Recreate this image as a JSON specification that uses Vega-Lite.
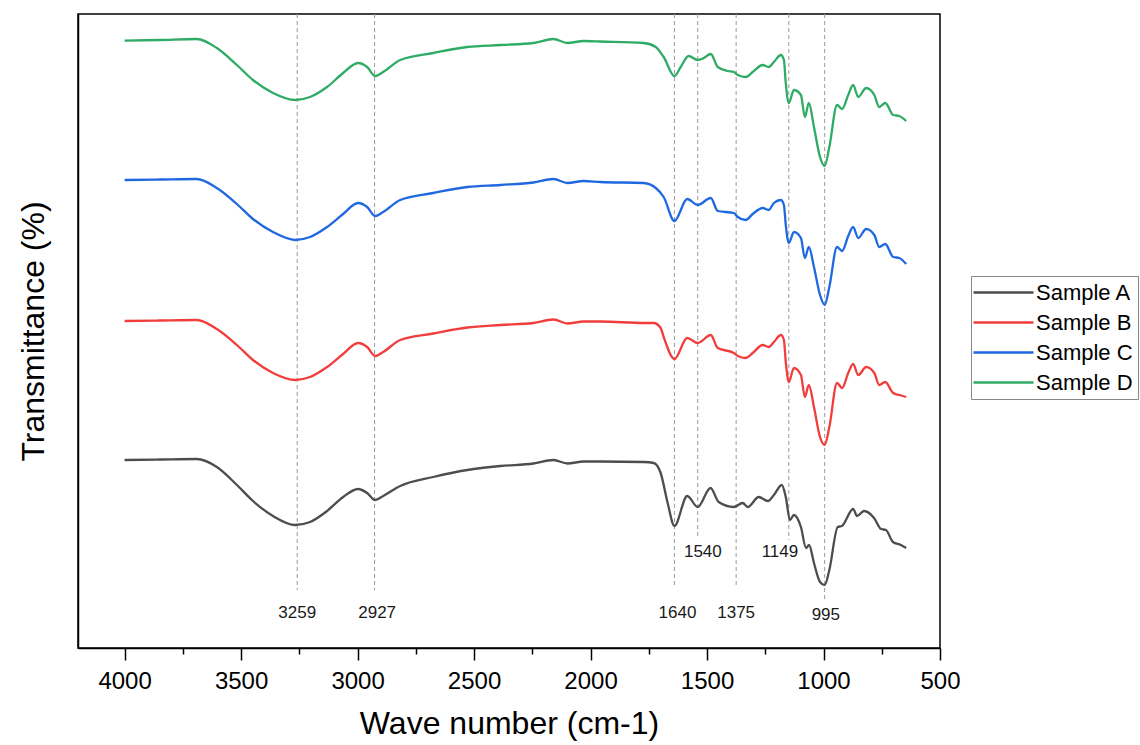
{
  "$schema": "https://vega.github.io/schema/vega-lite/v6.json",
  "width": 862,
  "height": 634,
  "autosize": {"type": "none"},
  "padding": {"left": 78, "top": 14, "right": 200, "bottom": 97},
  "background": "white",
  "config": {
    "font": "Liberation Sans",
    "view": {"stroke": "#000", "strokeWidth": 1.5},
    "axis": {"grid": false, "domainColor": "#000", "domainWidth": 1.5, "tickColor": "#000", "tickWidth": 1.5, "labelColor": "#000", "titleColor": "#000", "titleFontWeight": "normal", "labelFont": "Liberation Sans", "titleFont": "Liberation Sans"},
    "legend": {"symbolType": "M-3,0H3", "symbolSize": 400, "symbolStrokeWidth": 2.5, "symbolOffset": 16, "padding": 5, "labelOffset": 21, "rowPadding": 7, "strokeColor": "#888", "labelFontSize": 22, "labelFont": "Liberation Sans", "labelColor": "#000"}
  },
  "datasets": {
    "peaks": [
      {"wn": 3259, "yTop": 634, "yEnd": 58, "label": "3259", "lx": 3259, "ly": 35},
      {"wn": 2927, "yTop": 634, "yEnd": 58, "label": "2927", "lx": 2916, "ly": 35},
      {"wn": 1640, "yTop": 634, "yEnd": 60, "label": "1640", "lx": 1627, "ly": 35},
      {"wn": 1540, "yTop": 634, "yEnd": 111, "label": "1540", "lx": 1518, "ly": 96},
      {"wn": 1375, "yTop": 634, "yEnd": 60, "label": "1375", "lx": 1375, "ly": 35},
      {"wn": 1149, "yTop": 634, "yEnd": 108, "label": "1149", "lx": 1187, "ly": 96},
      {"wn": 995, "yTop": 634, "yEnd": 48, "label": "995", "lx": 990, "ly": 33}
    ],
    "spectra": [
      {"sample": "Sample A", "wn": 4000, "T": 188}, {"sample": "Sample A", "wn": 3850, "T": 188.5}, {"sample": "Sample A", "wn": 3690, "T": 189}, {"sample": "Sample A", "wn": 3604, "T": 181}, {"sample": "Sample A", "wn": 3518, "T": 163}, {"sample": "Sample A", "wn": 3449, "T": 147}, {"sample": "Sample A", "wn": 3363, "T": 132}, {"sample": "Sample A", "wn": 3268, "T": 123}, {"sample": "Sample A", "wn": 3204, "T": 126}, {"sample": "Sample A", "wn": 3131, "T": 137}, {"sample": "Sample A", "wn": 3062, "T": 151}, {"sample": "Sample A", "wn": 2998, "T": 159}, {"sample": "Sample A", "wn": 2959, "T": 155}, {"sample": "Sample A", "wn": 2925, "T": 148}, {"sample": "Sample A", "wn": 2890, "T": 152}, {"sample": "Sample A", "wn": 2817, "T": 162}, {"sample": "Sample A", "wn": 2675, "T": 171}, {"sample": "Sample A", "wn": 2529, "T": 178}, {"sample": "Sample A", "wn": 2387, "T": 182}, {"sample": "Sample A", "wn": 2245, "T": 184.5}, {"sample": "Sample A", "wn": 2159, "T": 188}, {"sample": "Sample A", "wn": 2099, "T": 184.5}, {"sample": "Sample A", "wn": 2030, "T": 186.5}, {"sample": "Sample A", "wn": 1957, "T": 186.5}, {"sample": "Sample A", "wn": 1772, "T": 186}, {"sample": "Sample A", "wn": 1729, "T": 185}, {"sample": "Sample A", "wn": 1699, "T": 175}, {"sample": "Sample A", "wn": 1669, "T": 145}, {"sample": "Sample A", "wn": 1640, "T": 122}, {"sample": "Sample A", "wn": 1585, "T": 152}, {"sample": "Sample A", "wn": 1540, "T": 141}, {"sample": "Sample A", "wn": 1485, "T": 160}, {"sample": "Sample A", "wn": 1450, "T": 146}, {"sample": "Sample A", "wn": 1385, "T": 141}, {"sample": "Sample A", "wn": 1347, "T": 145}, {"sample": "Sample A", "wn": 1325, "T": 141}, {"sample": "Sample A", "wn": 1278, "T": 151}, {"sample": "Sample A", "wn": 1239, "T": 147}, {"sample": "Sample A", "wn": 1213, "T": 153}, {"sample": "Sample A", "wn": 1179, "T": 163}, {"sample": "Sample A", "wn": 1162, "T": 151}, {"sample": "Sample A", "wn": 1144, "T": 128}, {"sample": "Sample A", "wn": 1127, "T": 133}, {"sample": "Sample A", "wn": 1097, "T": 121}, {"sample": "Sample A", "wn": 1075, "T": 100}, {"sample": "Sample A", "wn": 1062, "T": 103}, {"sample": "Sample A", "wn": 1041, "T": 85}, {"sample": "Sample A", "wn": 1015, "T": 66}, {"sample": "Sample A", "wn": 995, "T": 63}, {"sample": "Sample A", "wn": 975, "T": 78}, {"sample": "Sample A", "wn": 939, "T": 121}, {"sample": "Sample A", "wn": 921, "T": 122}, {"sample": "Sample A", "wn": 873, "T": 139}, {"sample": "Sample A", "wn": 856, "T": 132}, {"sample": "Sample A", "wn": 826, "T": 137}, {"sample": "Sample A", "wn": 783, "T": 130}, {"sample": "Sample A", "wn": 753, "T": 119}, {"sample": "Sample A", "wn": 732, "T": 118}, {"sample": "Sample A", "wn": 702, "T": 106}, {"sample": "Sample A", "wn": 668, "T": 103}, {"sample": "Sample A", "wn": 645, "T": 100},

      {"sample": "Sample B", "wn": 4000, "T": 327}, {"sample": "Sample B", "wn": 3850, "T": 327.5}, {"sample": "Sample B", "wn": 3690, "T": 328}, {"sample": "Sample B", "wn": 3604, "T": 319}, {"sample": "Sample B", "wn": 3518, "T": 303}, {"sample": "Sample B", "wn": 3449, "T": 288}, {"sample": "Sample B", "wn": 3363, "T": 275}, {"sample": "Sample B", "wn": 3268, "T": 268}, {"sample": "Sample B", "wn": 3204, "T": 271}, {"sample": "Sample B", "wn": 3131, "T": 281}, {"sample": "Sample B", "wn": 3062, "T": 294}, {"sample": "Sample B", "wn": 2998, "T": 305}, {"sample": "Sample B", "wn": 2959, "T": 301}, {"sample": "Sample B", "wn": 2925, "T": 292}, {"sample": "Sample B", "wn": 2890, "T": 296}, {"sample": "Sample B", "wn": 2817, "T": 308}, {"sample": "Sample B", "wn": 2675, "T": 314.5}, {"sample": "Sample B", "wn": 2529, "T": 320.5}, {"sample": "Sample B", "wn": 2387, "T": 323}, {"sample": "Sample B", "wn": 2245, "T": 325}, {"sample": "Sample B", "wn": 2159, "T": 328.5}, {"sample": "Sample B", "wn": 2099, "T": 324.5}, {"sample": "Sample B", "wn": 2030, "T": 326.5}, {"sample": "Sample B", "wn": 1957, "T": 326.5}, {"sample": "Sample B", "wn": 1772, "T": 325}, {"sample": "Sample B", "wn": 1729, "T": 325}, {"sample": "Sample B", "wn": 1699, "T": 320}, {"sample": "Sample B", "wn": 1686, "T": 311}, {"sample": "Sample B", "wn": 1640, "T": 289}, {"sample": "Sample B", "wn": 1585, "T": 310}, {"sample": "Sample B", "wn": 1540, "T": 305}, {"sample": "Sample B", "wn": 1484, "T": 313}, {"sample": "Sample B", "wn": 1454, "T": 300}, {"sample": "Sample B", "wn": 1385, "T": 295}, {"sample": "Sample B", "wn": 1368, "T": 292}, {"sample": "Sample B", "wn": 1334, "T": 290}, {"sample": "Sample B", "wn": 1304, "T": 295}, {"sample": "Sample B", "wn": 1261, "T": 303}, {"sample": "Sample B", "wn": 1235, "T": 301}, {"sample": "Sample B", "wn": 1213, "T": 306}, {"sample": "Sample B", "wn": 1183, "T": 313}, {"sample": "Sample B", "wn": 1170, "T": 308}, {"sample": "Sample B", "wn": 1162, "T": 286}, {"sample": "Sample B", "wn": 1149, "T": 266}, {"sample": "Sample B", "wn": 1127, "T": 280}, {"sample": "Sample B", "wn": 1097, "T": 273}, {"sample": "Sample B", "wn": 1080, "T": 251}, {"sample": "Sample B", "wn": 1063, "T": 263}, {"sample": "Sample B", "wn": 1041, "T": 241}, {"sample": "Sample B", "wn": 1015, "T": 211}, {"sample": "Sample B", "wn": 995, "T": 203}, {"sample": "Sample B", "wn": 975, "T": 221}, {"sample": "Sample B", "wn": 942, "T": 265}, {"sample": "Sample B", "wn": 920, "T": 260}, {"sample": "Sample B", "wn": 894, "T": 275}, {"sample": "Sample B", "wn": 873, "T": 284}, {"sample": "Sample B", "wn": 851, "T": 273}, {"sample": "Sample B", "wn": 817, "T": 281}, {"sample": "Sample B", "wn": 782, "T": 275}, {"sample": "Sample B", "wn": 761, "T": 263}, {"sample": "Sample B", "wn": 735, "T": 266}, {"sample": "Sample B", "wn": 701, "T": 255}, {"sample": "Sample B", "wn": 675, "T": 253}, {"sample": "Sample B", "wn": 645, "T": 251},

      {"sample": "Sample C", "wn": 4000, "T": 468}, {"sample": "Sample C", "wn": 3850, "T": 468.5}, {"sample": "Sample C", "wn": 3690, "T": 469}, {"sample": "Sample C", "wn": 3604, "T": 460}, {"sample": "Sample C", "wn": 3518, "T": 444}, {"sample": "Sample C", "wn": 3449, "T": 429}, {"sample": "Sample C", "wn": 3363, "T": 416}, {"sample": "Sample C", "wn": 3268, "T": 408}, {"sample": "Sample C", "wn": 3204, "T": 411}, {"sample": "Sample C", "wn": 3131, "T": 421}, {"sample": "Sample C", "wn": 3062, "T": 434}, {"sample": "Sample C", "wn": 2998, "T": 445}, {"sample": "Sample C", "wn": 2959, "T": 441}, {"sample": "Sample C", "wn": 2925, "T": 432}, {"sample": "Sample C", "wn": 2890, "T": 436}, {"sample": "Sample C", "wn": 2817, "T": 448}, {"sample": "Sample C", "wn": 2675, "T": 455}, {"sample": "Sample C", "wn": 2529, "T": 461}, {"sample": "Sample C", "wn": 2387, "T": 463}, {"sample": "Sample C", "wn": 2245, "T": 465.5}, {"sample": "Sample C", "wn": 2159, "T": 469}, {"sample": "Sample C", "wn": 2099, "T": 465}, {"sample": "Sample C", "wn": 2030, "T": 467}, {"sample": "Sample C", "wn": 1957, "T": 466}, {"sample": "Sample C", "wn": 1772, "T": 465}, {"sample": "Sample C", "wn": 1720, "T": 460}, {"sample": "Sample C", "wn": 1686, "T": 451}, {"sample": "Sample C", "wn": 1640, "T": 427}, {"sample": "Sample C", "wn": 1585, "T": 449}, {"sample": "Sample C", "wn": 1540, "T": 443}, {"sample": "Sample C", "wn": 1484, "T": 450}, {"sample": "Sample C", "wn": 1454, "T": 437}, {"sample": "Sample C", "wn": 1385, "T": 435}, {"sample": "Sample C", "wn": 1368, "T": 431}, {"sample": "Sample C", "wn": 1334, "T": 428}, {"sample": "Sample C", "wn": 1304, "T": 434}, {"sample": "Sample C", "wn": 1261, "T": 440}, {"sample": "Sample C", "wn": 1235, "T": 438}, {"sample": "Sample C", "wn": 1213, "T": 445}, {"sample": "Sample C", "wn": 1183, "T": 448}, {"sample": "Sample C", "wn": 1170, "T": 443}, {"sample": "Sample C", "wn": 1162, "T": 423}, {"sample": "Sample C", "wn": 1149, "T": 405}, {"sample": "Sample C", "wn": 1127, "T": 416}, {"sample": "Sample C", "wn": 1097, "T": 410}, {"sample": "Sample C", "wn": 1080, "T": 390}, {"sample": "Sample C", "wn": 1063, "T": 401}, {"sample": "Sample C", "wn": 1041, "T": 381}, {"sample": "Sample C", "wn": 1015, "T": 353}, {"sample": "Sample C", "wn": 995, "T": 343}, {"sample": "Sample C", "wn": 975, "T": 361}, {"sample": "Sample C", "wn": 942, "T": 401}, {"sample": "Sample C", "wn": 920, "T": 397}, {"sample": "Sample C", "wn": 894, "T": 412}, {"sample": "Sample C", "wn": 873, "T": 421}, {"sample": "Sample C", "wn": 851, "T": 410}, {"sample": "Sample C", "wn": 817, "T": 419}, {"sample": "Sample C", "wn": 782, "T": 413}, {"sample": "Sample C", "wn": 761, "T": 401}, {"sample": "Sample C", "wn": 735, "T": 404}, {"sample": "Sample C", "wn": 701, "T": 391}, {"sample": "Sample C", "wn": 675, "T": 390}, {"sample": "Sample C", "wn": 645, "T": 384},

      {"sample": "Sample D", "wn": 4000, "T": 607.3}, {"sample": "Sample D", "wn": 3850, "T": 608}, {"sample": "Sample D", "wn": 3690, "T": 609}, {"sample": "Sample D", "wn": 3604, "T": 600}, {"sample": "Sample D", "wn": 3518, "T": 583}, {"sample": "Sample D", "wn": 3449, "T": 568}, {"sample": "Sample D", "wn": 3363, "T": 555}, {"sample": "Sample D", "wn": 3268, "T": 548}, {"sample": "Sample D", "wn": 3204, "T": 551}, {"sample": "Sample D", "wn": 3131, "T": 561}, {"sample": "Sample D", "wn": 3062, "T": 575}, {"sample": "Sample D", "wn": 2998, "T": 585}, {"sample": "Sample D", "wn": 2959, "T": 581}, {"sample": "Sample D", "wn": 2925, "T": 572}, {"sample": "Sample D", "wn": 2890, "T": 576}, {"sample": "Sample D", "wn": 2817, "T": 588}, {"sample": "Sample D", "wn": 2675, "T": 595}, {"sample": "Sample D", "wn": 2529, "T": 601}, {"sample": "Sample D", "wn": 2387, "T": 603}, {"sample": "Sample D", "wn": 2245, "T": 605}, {"sample": "Sample D", "wn": 2159, "T": 609}, {"sample": "Sample D", "wn": 2099, "T": 605}, {"sample": "Sample D", "wn": 2030, "T": 607}, {"sample": "Sample D", "wn": 1957, "T": 606.5}, {"sample": "Sample D", "wn": 1772, "T": 605}, {"sample": "Sample D", "wn": 1720, "T": 601}, {"sample": "Sample D", "wn": 1686, "T": 591}, {"sample": "Sample D", "wn": 1640, "T": 572}, {"sample": "Sample D", "wn": 1613, "T": 581}, {"sample": "Sample D", "wn": 1579, "T": 592}, {"sample": "Sample D", "wn": 1540, "T": 588}, {"sample": "Sample D", "wn": 1514, "T": 590}, {"sample": "Sample D", "wn": 1484, "T": 594}, {"sample": "Sample D", "wn": 1454, "T": 581}, {"sample": "Sample D", "wn": 1411, "T": 577}, {"sample": "Sample D", "wn": 1385, "T": 576}, {"sample": "Sample D", "wn": 1368, "T": 573}, {"sample": "Sample D", "wn": 1334, "T": 571}, {"sample": "Sample D", "wn": 1304, "T": 576}, {"sample": "Sample D", "wn": 1261, "T": 583}, {"sample": "Sample D", "wn": 1235, "T": 581}, {"sample": "Sample D", "wn": 1213, "T": 586}, {"sample": "Sample D", "wn": 1183, "T": 593}, {"sample": "Sample D", "wn": 1170, "T": 588}, {"sample": "Sample D", "wn": 1162, "T": 565}, {"sample": "Sample D", "wn": 1149, "T": 545}, {"sample": "Sample D", "wn": 1127, "T": 558}, {"sample": "Sample D", "wn": 1097, "T": 553}, {"sample": "Sample D", "wn": 1080, "T": 531}, {"sample": "Sample D", "wn": 1063, "T": 545}, {"sample": "Sample D", "wn": 1041, "T": 521}, {"sample": "Sample D", "wn": 1015, "T": 491}, {"sample": "Sample D", "wn": 995, "T": 482}, {"sample": "Sample D", "wn": 975, "T": 501}, {"sample": "Sample D", "wn": 942, "T": 543}, {"sample": "Sample D", "wn": 920, "T": 539}, {"sample": "Sample D", "wn": 894, "T": 553}, {"sample": "Sample D", "wn": 873, "T": 563}, {"sample": "Sample D", "wn": 851, "T": 551}, {"sample": "Sample D", "wn": 817, "T": 560}, {"sample": "Sample D", "wn": 782, "T": 553}, {"sample": "Sample D", "wn": 761, "T": 541}, {"sample": "Sample D", "wn": 735, "T": 545}, {"sample": "Sample D", "wn": 701, "T": 533}, {"sample": "Sample D", "wn": 675, "T": 532}, {"sample": "Sample D", "wn": 645, "T": 527}
    ]
  },
  "layer": [
    {
      "data": {"name": "peaks"},
      "mark": {"type": "rule", "strokeDash": [4, 3], "color": "#9a9a9a", "strokeWidth": 1},
      "encoding": {
        "x": {"field": "wn", "type": "quantitative", "title": "Wave number (cm-1)"},
        "y": {"field": "yTop", "type": "quantitative", "title": "Transmittance (%)"},
        "y2": {"field": "yEnd"}
      }
    },
    {
      "data": {"name": "peaks"},
      "mark": {"type": "text", "fontSize": 17, "color": "#1a1a1a", "font": "Liberation Sans"},
      "encoding": {
        "x": {"field": "lx", "type": "quantitative", "title": "Wave number (cm-1)"},
        "y": {"field": "ly", "type": "quantitative", "title": "Transmittance (%)"},
        "text": {"field": "label", "type": "nominal"}
      }
    },
    {
      "data": {"name": "spectra"},
      "mark": {"type": "line", "strokeWidth": 2.3, "interpolate": "monotone"},
      "encoding": {
        "x": {
          "field": "wn", "type": "quantitative", "title": "Wave number (cm-1)",
          "scale": {"domain": [500, 4200], "reverse": true, "nice": false, "zero": false},
          "axis": {
            "values": [4000, 3750, 3500, 3250, 3000, 2750, 2500, 2250, 2000, 1750, 1500, 1250, 1000, 750, 500],
            "format": "d",
            "labelExpr": "datum.value % 500 === 0 ? datum.label : ''",
            "tickSize": 12,
            "tickDash": {"condition": {"test": "datum.value % 500 === 0", "value": [12, 0]}, "value": [6, 30]},
            "labelFontSize": 24, "titleFontSize": 32, "labelPadding": 9, "titlePadding": 15, "labelFlush": false, "labelOverlap": false
          }
        },
        "y": {
          "field": "T", "type": "quantitative", "title": "Transmittance (%)",
          "scale": {"domain": [0, 634], "nice": false, "zero": false},
          "axis": {"labels": false, "ticks": false, "domain": true, "titleFontSize": 32, "titlePadding": 28}
        },
        "color": {
          "field": "sample", "type": "nominal",
          "scale": {"domain": ["Sample A", "Sample B", "Sample C", "Sample D"], "range": ["#4d4d4d", "#f23d3d", "#1f68e0", "#2eab64"]},
          "legend": {"orient": "none", "legendX": 893, "legendY": 262, "title": null}
        }
      }
    }
  ]
}
